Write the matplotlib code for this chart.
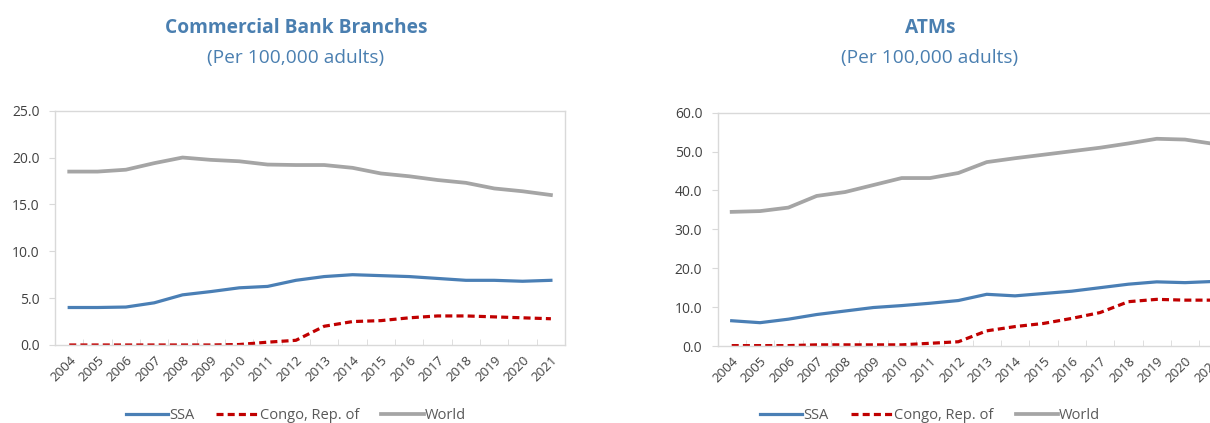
import numpy as np
import matplotlib
matplotlib.use('Agg')
import matplotlib.pyplot as plt
from matplotlib.ticker import FixedLocator, FormatStrFormatter

plt.rcParams['font.family'] = ['Open Sans', 'DejaVu Sans']

years = [str(y) for y in range(2004, 2022)]

# Commercial bank branches per 100,000 adults
branches_ssa = [4.0, 4.0, 4.05, 4.5, 5.35, 5.7, 6.1, 6.25, 6.9, 7.3, 7.5, 7.4, 7.3, 7.1, 6.9, 6.9, 6.8, 6.9]
branches_congo = [0.0, 0.0, 0.0, 0.0, 0.0, 0.0, 0.05, 0.3, 0.5, 2.0, 2.5, 2.6, 2.9, 3.1, 3.1, 3.0, 2.9, 2.8]
branches_world = [18.5, 18.5, 18.7, 19.4, 20.0, 19.75, 19.6, 19.25, 19.2, 19.2, 18.9, 18.3, 18.0, 17.6, 17.3, 16.7, 16.4, 16.0]

# ATMs per 100,000 adults
atms_ssa = [6.5, 6.0, 6.9, 8.1, 9.0, 9.9, 10.4, 11.0, 11.7, 13.3, 12.9, 13.5, 14.1, 15.0, 15.9, 16.5, 16.3, 16.6]
atms_congo = [0.1, 0.1, 0.1, 0.3, 0.3, 0.3, 0.3, 0.7, 1.1, 3.9, 5.0, 5.8, 7.1, 8.6, 11.4, 12.0, 11.8, 11.8]
atms_world = [34.5, 34.7, 35.6, 38.6, 39.6, 41.4, 43.2, 43.2, 44.5, 47.3, 48.3, 49.2, 50.1, 51.0, 52.1, 53.3, 53.1, 52.0]

blue = '#4a7fb5'
red = '#c00000'
gray = '#a5a5a5'
title_col = '#4a7fb0'
text_col = '#404040'
legend_col = '#595959'
frame_col = '#d9d9d9'

fig = plt.figure(figsize=(12.10, 4.23), dpi=100)


def panel(rect, ssa, congo, world, ymax, ystep, title, cx):
    ax = fig.add_axes(rect)
    x = np.arange(len(years))
    l1, = ax.plot(x, ssa, color=blue, lw=2.3, label='SSA')
    l2, = ax.plot(x, congo, color=red, lw=2.3, ls=(0, (2.2, 1.3)), label='Congo, Rep. of')
    l3, = ax.plot(x, world, color=gray, lw=2.7, label='World')
    ax.set_xlim(-0.5, len(years) - 0.5)
    ax.set_ylim(0, ymax)
    ax.set_yticks(np.arange(0, ymax + 0.01, ystep))
    ax.yaxis.set_major_formatter(FormatStrFormatter('%.1f'))
    ax.set_xticks(x)
    ax.set_xticklabels(years, rotation=45, ha='right', va='top', rotation_mode='anchor')
    ax.xaxis.set_minor_locator(FixedLocator(np.arange(0.5, len(years) - 1, 1.0)))
    ax.tick_params(axis='x', which='major', length=0, pad=6, labelsize=9.5, labelcolor=text_col)
    ax.tick_params(axis='x', which='minor', length=4, direction='in', color=frame_col)
    ax.tick_params(axis='y', length=4, color=frame_col, labelsize=10, labelcolor=text_col, pad=7)
    for s in ax.spines.values():
        s.set_color(frame_col)
        s.set_linewidth(1.0)
    fig.text(cx, 0.934, title, ha='center', va='center', fontsize=13.8,
             fontweight='bold', color=title_col)
    fig.text(cx, 0.862, '(Per 100,000 adults)', ha='center', va='center',
             fontsize=13.8, color=title_col)
    fig.legend(handles=[l1, l2, l3], loc='center', bbox_to_anchor=(cx, 0.018), ncol=3,
               frameon=False, fontsize=10.5, handlelength=2.9, columnspacing=1.5,
               handletextpad=0.1, labelcolor=legend_col)
    return ax


panel([0.0455, 0.1844, 0.4215, 0.554], branches_ssa, branches_congo, branches_world,
      25, 5, 'Commercial Bank Branches', 0.2446)
panel([0.593, 0.182, 0.4215, 0.5515], atms_ssa, atms_congo, atms_world,
      60, 10, 'ATMs', 0.7686)

fig.savefig('out.png', dpi=100)
